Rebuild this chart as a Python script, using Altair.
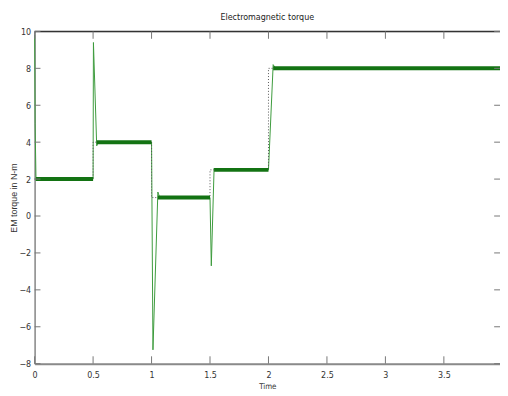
import altair as alt
import pandas as pd

# Full EM torque trajectory (time in s, torque in N-m)
time_pts = [0.0, 0.004, 0.012, 0.02, 0.5, 0.503, 0.531, 0.545, 1.0, 1.012, 1.054, 1.07,
            1.5, 1.511, 1.535, 1.55, 2.0, 2.04, 2.06, 3.98]
torque_pts = [9.8, 5.0, 1.9, 2.0, 2.0, 9.4, 3.8, 4.0, 4.0, -7.25, 1.3, 1.0,
              1.0, -2.7, 2.6, 2.5, 2.5, 8.2, 8.0, 8.0]

# Steady-state plateaus (drawn thick, ripple band)
plat_start = [0.012, 0.531, 1.054, 1.535, 2.04]
plat_end = [0.5, 1.0, 1.5, 2.0, 3.98]
plat_val = [2.0, 4.0, 1.0, 2.5, 8.0]

# Reference torque steps
ref_t = [0.0, 0.5, 0.5, 1.0, 1.0, 1.5, 1.5, 2.0, 2.0, 3.98]
ref_v = [2.0, 2.0, 4.0, 4.0, 1.0, 1.0, 2.5, 2.5, 8.0, 8.0]

x_ticks = [0, 0.5, 1, 1.5, 2, 2.5, 3, 3.5]
y_ticks = [10, 8, 6, 4, 2, 0, -2, -4, -6, -8]

XMAX = 3.98
FONT = "DejaVu Sans Condensed, Liberation Sans, sans-serif"

df = pd.DataFrame({"t": time_pts, "v": torque_pts})
rows = []
for i, (a, b, v) in enumerate(zip(plat_start, plat_end, plat_val)):
    rows.append({"t": a, "v": v, "seg": i})
    rows.append({"t": b, "v": v, "seg": i})
plat = pd.DataFrame(rows)
ref = pd.DataFrame({"t": ref_t, "v": ref_v})

xs = alt.Scale(domain=[0, XMAX], nice=False, zero=False)
ys = alt.Scale(domain=[-8, 10], nice=False, zero=False)

xax = alt.Axis(values=x_ticks, labelExpr="datum.value + ''", title="Time",
               ticks=False, grid=False, domainColor="#8a8a8a", domainWidth=2,
               labelOverlap=False, labelFlush=False,
               labelFont=FONT, labelFontSize=9, labelColor="#333",
               titleFont=FONT, titleFontSize=8, titleFontWeight="normal",
               titleColor="#333", labelPadding=7, titlePadding=3)
yax = alt.Axis(values=y_ticks, title="EM torque in N-m", ticks=False, grid=False,
               domainColor="#8a8a8a", domainWidth=1.5,
               labelOverlap=False, labelFlush=False,
               labelFont=FONT, labelFontSize=9, labelColor="#333",
               titleFont="Liberation Sans", titleFontSize=9,
               titleFontWeight="normal", titleColor="#333",
               labelPadding=4, titlePadding=0)


def X(f):
    return alt.X(f, scale=xs, axis=xax)


def Y(f):
    return alt.Y(f, scale=ys, axis=yax)


def XD(v):
    return alt.XDatum(v, scale=xs, axis=xax)


def YD(v):
    return alt.YDatum(v, scale=ys, axis=yax)


traj = alt.Chart(df).mark_line(color="#3c9a3c", strokeWidth=1).encode(x=X("t:Q"), y=Y("v:Q"))

refl = alt.Chart(ref).mark_line(color="#555555", strokeWidth=1, strokeDash=[1, 2]).encode(
    x=X("t:Q"), y=Y("v:Q"))

plats = alt.Chart(plat).mark_line(color="#137313", strokeWidth=4).encode(
    x=X("t:Q"), y=Y("v:Q"), detail="seg:N")

# top border
top = alt.Chart(pd.DataFrame({"a": [0]})).mark_rule(color="#333333", strokeWidth=1.5).encode(
    x=XD(0), x2=alt.datum(XMAX), y=YD(10))

# inward ticks on all four sides
xt = pd.DataFrame({"t": x_ticks})
yt = pd.DataFrame({"v": y_ticks})
tick_col = "#777777"
bt = alt.Chart(xt).mark_rule(color=tick_col).encode(
    x=X("t:Q"), y=YD(-8), y2=alt.datum(-7.6))
tt = alt.Chart(xt).mark_rule(color=tick_col).encode(
    x=X("t:Q"), y=YD(10), y2=alt.datum(9.6))
lt = alt.Chart(yt).mark_rule(color=tick_col).encode(
    y=Y("v:Q"), x=XD(0), x2=alt.datum(0.05))
rt = alt.Chart(yt).mark_rule(color=tick_col).encode(
    y=Y("v:Q"), x=XD(XMAX), x2=alt.datum(XMAX - 0.05))

chart = alt.layer(traj, refl, plats, top, bt, tt, lt, rt).properties(
    width=472, height=337,
    title=alt.TitleParams("Electromagnetic torque", font=FONT, fontSize=9,
                          fontWeight="normal", color="#222", offset=6),
    autosize=alt.AutoSizeParams(type="none"),
    padding={"left": 27, "top": 21, "right": 0, "bottom": 28},
).configure_view(stroke=None).configure(background="white")

chart.save("out.html", embed_options={"renderer": "svg", "actions": False})
